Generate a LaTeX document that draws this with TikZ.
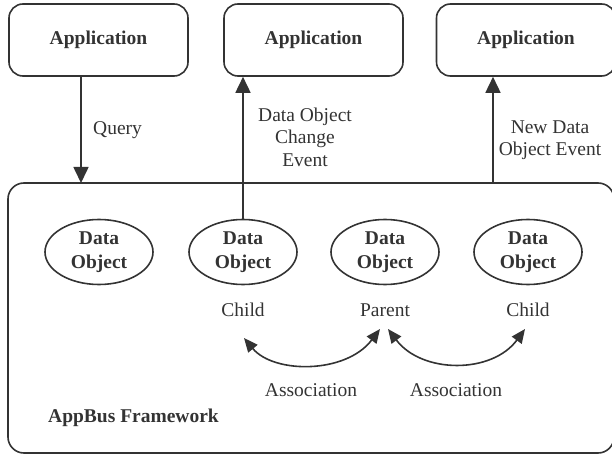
\documentclass[tikz,border=0pt]{standalone}
\usepackage{fontspec}
\setmainfont{Liberation Serif}
\usetikzlibrary{shapes.geometric,arrows.meta}
\definecolor{ink}{HTML}{333333}
\tikzset{
  appbox/.style={draw=ink,line width=1.6pt,rounded corners=14pt,minimum width=179pt,minimum height=72pt,inner sep=0pt,text=ink,font=\fontsize{19.5}{22}\selectfont\bfseries},
  dobj/.style={draw=ink,line width=1.6pt,ellipse,minimum width=108pt,minimum height=65pt,inner sep=0pt,align=center,text=ink,font=\fontsize{19.5}{24}\selectfont\bfseries},
  lbl/.style={text=ink,align=center,inner sep=0pt,font=\fontsize{19.5}{22.5}\selectfont},
  conn/.style={draw=ink,line width=1.6pt,-{Triangle[width=15pt,length=16pt]}},
  assoc/.style={draw=ink,line width=1.6pt,{Triangle[width=12pt,length=14pt]}-{Triangle[width=12pt,length=14pt]}}
}
\begin{document}
\begin{tikzpicture}[x=1pt,y=-1pt]
\useasboundingbox (0,0) rectangle (612,454);
% framework
\node[draw=ink,line width=1.6pt,rounded corners=16pt,minimum width=606pt,minimum height=270pt,inner sep=0pt] (fw) at (311,318) {};
\node[lbl,font=\fontsize{19.5}{22}\selectfont\bfseries,anchor=west] (fwl) at (48,418) {AppBus Framework};
% applications
\node[appbox] (a1) at (98.5,40) {Application};
\node[appbox] (a2) at (313.5,40) {Application};
\node[appbox] (a3) at (526,40) {Application};
% data objects
\node[dobj] (d1) at (99,252) {Data\\Object};
\node[dobj] (d2) at (243,252) {Data\\Object};
\node[dobj] (d3) at (385,252) {Data\\Object};
\node[dobj] (d4) at (528,252) {Data\\Object};
% role labels
\node[lbl] (c1) at (243,310) {Child};
\node[lbl] (p1) at (385,310) {Parent};
\node[lbl] (c2) at (528,310) {Child};
% connectors
\coordinate (q1) at (81,76);
\coordinate (q2) at (81,183);
\draw[conn] (q1) -- (q2);
\node[lbl,anchor=west] (ql) at (93,130) {Query};
\draw[conn] (d2.north) -- (d2.north |- a2.south);
\node[lbl] (cl) at (305,137) {Data Object\\Change\\Event};
\coordinate (n1) at (493,183);
\draw[conn] (n1) -- (n1 |- a3.south);
\node[lbl] (nl) at (550,140) {New Data\\Object Event};
% associations
\coordinate (l1) at (244,338);
\coordinate (l2) at (380,329);
\coordinate (r1) at (388,329);
\coordinate (r2) at (525,329);
\draw[assoc] (l1) .. controls (274,374) and (346,374) .. (l2);
\draw[assoc] (r1) .. controls (422,374) and (492,374) .. (r2);
\node[lbl] (as1) at (311,390) {Association};
\node[lbl] (as2) at (456,390) {Association};
\end{tikzpicture}
\end{document}
